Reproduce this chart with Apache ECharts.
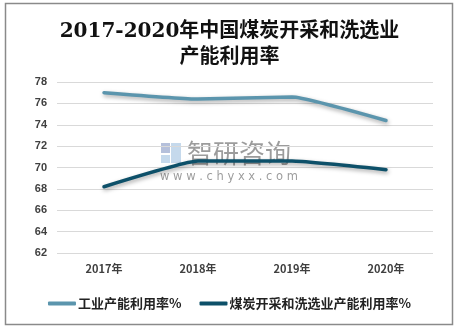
<!DOCTYPE html>
<html>
<head>
<meta charset="utf-8">
<script src="https://cdn.jsdelivr.net/npm/echarts@6/dist/echarts.min.js"></script>
<style>
  html, body { margin: 0; padding: 0; background: #fff; }
  #chart { width: 459px; height: 329px; }
</style>
</head>
<body>
<div id="chart"></div>
<script>
// Capacity utilisation, China, 2017-2020 (%)
const years = ['2017年', '2018年', '2019年', '2020年'];
const industryRate = [77.0, 76.4, 76.6, 74.4];
const coalRate = [68.2, 70.6, 70.6, 69.8];
const seriesNames = ['工业产能利用率%', '煤炭开采和洗选业产能利用率%'];

const chart = echarts.init(document.getElementById('chart'));

const lineShadow = {
  shadowColor: 'rgba(0,0,0,0.35)',
  shadowBlur: 4,
  shadowOffsetY: 2,
  shadowOffsetX: 1
};

chart.setOption({
  backgroundColor: '#fff',
  title: {
    text: '2017-2020年中国煤炭开采和洗选业\n产能利用率',
    left: 'center',
    top: 14,
    textStyle: {
      fontFamily: '"DejaVu Serif", "Noto Sans CJK SC", serif',
      fontSize: 20,
      fontWeight: 'bold',
      color: '#111',
      lineHeight: 26
    }
  },
  graphic: [
    {
      type: 'rect',
      shape: { x: 5.5, y: 3.5, width: 447, height: 321 },
      style: { fill: 'none', stroke: '#8a8a8a', lineWidth: 1.5 },
      z: 100
    },
    // watermark
    {
      type: 'group',
      z: 50,
      children: [
        { type: 'rect', shape: { x: 161, y: 143, width: 9, height: 10 }, style: { fill: 'rgba(120,140,190,0.55)' } },
        { type: 'rect', shape: { x: 171, y: 143, width: 10, height: 20 }, style: { fill: 'rgba(150,185,220,0.55)' } },
        { type: 'rect', shape: { x: 161, y: 155, width: 9, height: 8 }, style: { fill: 'rgba(150,185,220,0.55)' } },
        {
          type: 'text',
          style: {
            x: 187, y: 153, text: '智研咨询',
            font: '26px "Noto Sans CJK SC", sans-serif',
            fill: 'rgba(90,90,90,0.6)', verticalAlign: 'middle'
          }
        },
        {
          type: 'text',
          style: {
            x: 229, y: 177, text: 'w w w . c h y x x . c o m',
            font: '11.5px "DejaVu Sans", sans-serif',
            fill: 'rgba(90,90,90,0.6)', align: 'center', verticalAlign: 'middle'
          }
        }
      ]
    }
  ],
  legend: {
    bottom: 14,
    left: 'center',
    itemWidth: 28,
    itemHeight: 4,
    itemGap: 18,
    icon: 'roundRect',
    data: seriesNames,
    textStyle: {
      fontFamily: '"Noto Sans CJK SC", sans-serif',
      fontSize: 13,
      fontWeight: 'bold',
      color: '#222',
      padding: [0, 0, 0, -3]
    }
  },
  grid: {
    left: 57,
    right: 26,
    top: 82,
    bottom: 76
  },
  xAxis: {
    type: 'category',
    data: years,
    boundaryGap: true,
    axisLine: { show: false },
    axisTick: { show: false },
    axisLabel: {
      margin: 10,
      fontFamily: '"Noto Sans CJK SC", sans-serif',
      fontSize: 11,
      fontWeight: 'bold',
      color: '#404040'
    }
  },
  yAxis: {
    type: 'value',
    min: 62,
    max: 78,
    interval: 2,
    axisLine: { show: false },
    axisTick: { show: false },
    axisLabel: {
      margin: 10,
      fontFamily: '"Liberation Sans", sans-serif',
      fontSize: 11,
      fontWeight: 'bold',
      color: '#404040'
    },
    splitLine: { lineStyle: { color: '#d9d9d9', width: 1 } }
  },
  series: [
    {
      name: seriesNames[0],
      type: 'line',
      data: industryRate,
      smooth: 0.12,
      symbol: 'none',
      itemStyle: { color: '#5b95ad' },
      lineStyle: Object.assign({ color: '#5b95ad', width: 3.5, cap: 'round' }, lineShadow)
    },
    {
      name: seriesNames[1],
      type: 'line',
      data: coalRate,
      smooth: 0.12,
      symbol: 'none',
      itemStyle: { color: '#0d5069' },
      lineStyle: Object.assign({ color: '#0d5069', width: 3.5, cap: 'round' }, lineShadow)
    }
  ],
  animation: false
});
</script>
</body>
</html>
